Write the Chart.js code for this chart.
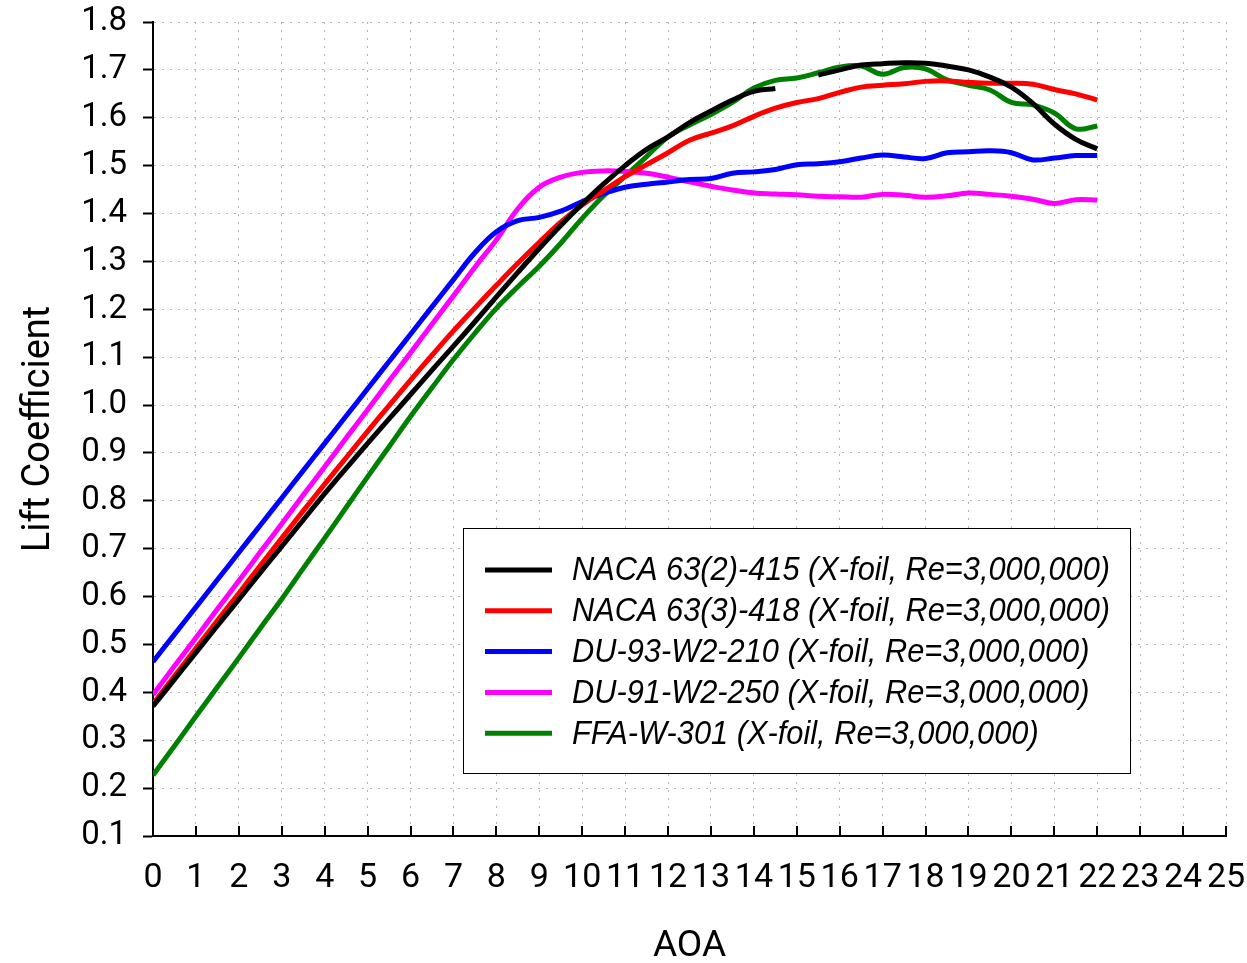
<!DOCTYPE html>
<html>
<head>
<meta charset="utf-8">
<title>Lift Coefficient vs AOA</title>
<script src="https://cdn.jsdelivr.net/npm/chart.js@4.4.1/dist/chart.umd.min.js"></script>
<style>
    html, body { margin: 0; padding: 0; background: #ffffff; }
    canvas { display: block; }
</style>
</head>
<body>
<canvas id="lift_chart" width="1247" height="963"></canvas>
<script>
// angle of attack (deg), one sample every half degree
const aoa_values = [
    0, 0.5, 1, 1.5, 2, 2.5, 3, 3.5, 4, 4.5, 5, 5.5, 6, 6.5, 7, 7.5, 8, 8.5, 9, 9.5, 10, 10.5,
    11, 11.5, 12, 12.5, 13, 13.5, 14, 14.5, 15, 15.5, 16, 16.5, 17, 17.5, 18, 18.5, 19, 19.5,
    20, 20.5, 21, 21.5, 22,
];

const naca_632_415 = [
    0.371, 0.427, 0.483, 0.539, 0.594, 0.650, 0.705, 0.760, 0.815, 0.868, 0.920, 0.971, 1.022, 1.073,
    1.123, 1.174, 1.226, 1.277, 1.327, 1.375, 1.420, 1.462, 1.500, 1.534, 1.560, 1.590, 1.614, 1.637,
    1.655, 1.661, null, 1.689, 1.700, 1.710, 1.713, 1.715, 1.714, 1.708, 1.700, 1.685, 1.664, 1.630,
    1.587, 1.555, 1.535,
];

const naca_633_418 = [
    0.376, 0.434, 0.492, 0.550, 0.607, 0.665, 0.722, 0.779, 0.835, 0.890, 0.945, 0.999, 1.052, 1.104,
    1.155, 1.203, 1.250, 1.296, 1.340, 1.382, 1.418, 1.448, 1.477, 1.502, 1.527, 1.553, 1.568, 1.583,
    1.603, 1.620, 1.632, 1.640, 1.653, 1.664, 1.668, 1.671, 1.676, 1.677, 1.674, 1.672, 1.672, 1.670,
    1.659, 1.650, 1.637,
];

const du_93_w2_210 = [
    0.464, 0.521, 0.578, 0.635, 0.692, 0.749, 0.806, 0.863, 0.920, 0.977, 1.034, 1.091, 1.148, 1.205,
    1.262, 1.318, 1.362, 1.385, 1.392, 1.405, 1.425, 1.442, 1.455, 1.461, 1.466, 1.471, 1.473, 1.484,
    1.487, 1.492, 1.502, 1.504, 1.508, 1.516, 1.522, 1.518, 1.515, 1.527, 1.529, 1.531, 1.527, 1.512,
    1.516, 1.521, 1.521,
];

const du_91_w2_250 = [
    0.395, 0.455, 0.514, 0.574, 0.633, 0.693, 0.752, 0.812, 0.871, 0.931, 0.990, 1.050, 1.109, 1.169,
    1.228, 1.288, 1.345, 1.410, 1.455, 1.476, 1.486, 1.489, 1.488, 1.484, 1.476, 1.466, 1.457, 1.449,
    1.443, 1.441, 1.439, 1.436, 1.435, 1.434, 1.440, 1.438, 1.434, 1.437, 1.443, 1.440, 1.436, 1.430,
    1.421, 1.429, 1.428,
];

const ffa_w_301 = [
    0.227, 0.288, 0.350, 0.411, 0.472, 0.534, 0.595, 0.659, 0.722, 0.786, 0.850, 0.913, 0.976, 1.036,
    1.095, 1.150, 1.202, 1.247, 1.290, 1.338, 1.390, 1.437, 1.478, 1.519, 1.560, 1.585, 1.607, 1.632,
    1.662, 1.678, 1.683, 1.694, 1.706, 1.708, 1.691, 1.705, 1.702, 1.679, 1.668, 1.658, 1.632, 1.627,
    1.610, 1.577, 1.583,
];

const series_labels = [
    'NACA 63(2)-415 (X-foil, Re=3,000,000)',
    'NACA 63(3)-418 (X-foil, Re=3,000,000)',
    'DU-93-W2-210 (X-foil, Re=3,000,000)',
    'DU-91-W2-250 (X-foil, Re=3,000,000)',
    'FFA-W-301 (X-foil, Re=3,000,000)',
];

const series_colors = ['#000000', '#ff0000', '#0000ff', '#ff00ff', '#008000'];
const series_values = [naca_632_415, naca_633_418, du_93_w2_210, du_91_w2_250, ffa_w_301];

const axis_font = 'Roboto, "Noto Sans", sans-serif';
const grid_dot = '#b4b4b4';

function to_points(values) {
    return aoa_values.map((a, i) => ({ x: a, y: values[i] }));
}

const lift_datasets = series_values.map((values, i) => ({
    label: series_labels[i],
    data: to_points(values),
    borderColor: series_colors[i],
    backgroundColor: series_colors[i],
    borderWidth: 5,
    pointRadius: 0,
    tension: 0.4,
    spanGaps: false,
}));

// x ticks in the reference point inward, so they are drawn here from the scale
const inward_ticks_plugin = {
    id: 'inward_ticks',
    afterDatasetsDraw(chart) {
        const scale = chart.scales.x;
        const ctx = chart.ctx;
        const bottom = chart.chartArea.bottom;
        ctx.save();
        ctx.strokeStyle = '#000000';
        ctx.lineWidth = 2;
        scale.ticks.forEach((tick) => {
            const px = Math.round(scale.getPixelForValue(tick.value));
            ctx.beginPath();
            ctx.moveTo(px, bottom);
            ctx.lineTo(px, bottom - 10);
            ctx.stroke();
        });
        ctx.restore();
    },
};

// boxed legend sitting inside the plot
const boxed_legend_plugin = {
    id: 'boxed_legend',
    afterDatasetsDraw(chart) {
        const ctx = chart.ctx;
        const area = chart.chartArea;
        const box_left = area.left + 310;
        const box_top = area.top + 506;
        const box_w = 667;
        const box_h = 245;
        ctx.save();
        ctx.fillStyle = '#ffffff';
        ctx.fillRect(box_left, box_top, box_w, box_h);
        ctx.strokeStyle = '#000000';
        ctx.lineWidth = 1;
        ctx.strokeRect(box_left + 0.5, box_top + 0.5, box_w, box_h);

        ctx.font = 'italic 34px "Liberation Sans Narrow", "Liberation Sans", Arial, sans-serif';
        const widest = ctx.measureText(chart.data.datasets[0].label).width;
        const squeeze = Math.min(1, 538 / widest);

        chart.data.datasets.forEach((ds, i) => {
            const row_y = box_top + 42 + i * 40.8;
            ctx.strokeStyle = ds.borderColor;
            ctx.lineWidth = 5;
            ctx.beginPath();
            ctx.moveTo(box_left + 22, row_y);
            ctx.lineTo(box_left + 89, row_y);
            ctx.stroke();

            ctx.save();
            ctx.translate(box_left + 109, row_y);
            ctx.scale(squeeze, 1);
            ctx.fillStyle = '#000000';
            ctx.textBaseline = 'middle';
            ctx.textAlign = 'left';
            ctx.fillText(ds.label, 0, 1);
            ctx.restore();
        });
        ctx.restore();
    },
};

new Chart(document.getElementById('lift_chart').getContext('2d'), {
    type: 'line',
    data: { datasets: lift_datasets },
    plugins: [inward_ticks_plugin, boxed_legend_plugin],
    options: {
        responsive: false,
        animation: false,
        devicePixelRatio: 1,
        layout: { padding: { left: 0, right: 21, top: 22, bottom: 0 } },
        plugins: {
            legend: { display: false },
            tooltip: { enabled: false },
        },
        scales: {
            x: {
                type: 'linear',
                min: 0,
                max: 25,
                afterFit: (scale) => {
                    scale.height = 127;
                    scale.paddingLeft = 0;
                    scale.paddingRight = 0;
                },
                ticks: {
                    stepSize: 1,
                    autoSkip: false,
                    maxRotation: 0,
                    padding: 22,
                    color: '#000000',
                    font: { family: axis_font, size: 34 },
                },
                grid: {
                    color: grid_dot,
                    lineWidth: 1,
                    drawTicks: false,
                },
                border: { display: true, color: '#000000', width: 2, dash: [2, 6] },
                title: {
                    display: true,
                    text: 'AOA',
                    color: '#000000',
                    font: { family: axis_font, size: 37 },
                    padding: { top: 0, bottom: -6 },
                },
            },
            y: {
                type: 'linear',
                min: 0.1,
                max: 1.8,
                afterFit: (scale) => {
                    scale.width = 153;
                    scale.paddingTop = 0;
                    scale.paddingBottom = 0;
                },
                ticks: {
                    stepSize: 0.1,
                    padding: 16,
                    color: '#000000',
                    font: { family: axis_font, size: 33 },
                    callback: (value) => Number(value).toFixed(1),
                },
                grid: {
                    color: grid_dot,
                    lineWidth: 1,
                    drawTicks: true,
                    tickLength: 10,
                    tickColor: '#000000',
                    tickWidth: 2,
                    tickBorderDash: [],
                },
                border: { display: true, color: '#000000', width: 2, dash: [2, 6] },
                title: {
                    display: true,
                    text: 'Lift Coefficient',
                    color: '#000000',
                    font: { family: axis_font, size: 38 },
                    padding: { top: 17, bottom: 0 },
                },
            },
        },
    },
});
</script>
</body>
</html>
